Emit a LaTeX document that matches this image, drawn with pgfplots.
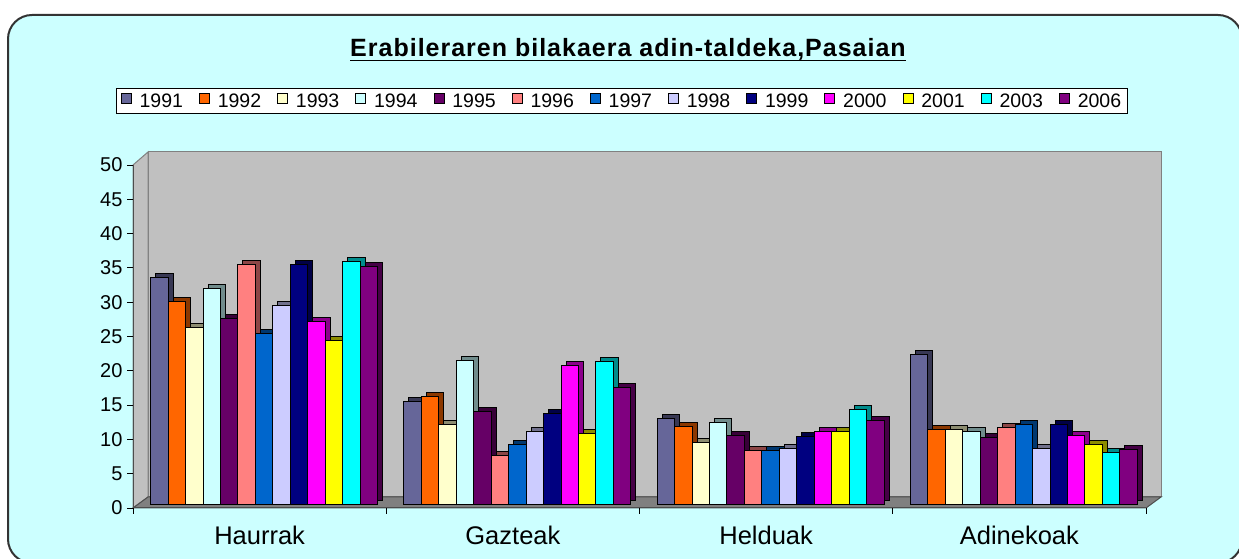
\documentclass[border=0pt]{standalone}
\usepackage{fontspec}
\setmainfont{Liberation Sans}
\newfontfamily\titlefont[LetterSpace=4]{Liberation Sans}
\usepackage{pgfplots}
\pgfplotsset{compat=1.18}
\usepackage{pgfplotstable}

\definecolor{bgcyan}{HTML}{CCFFFF}
\definecolor{framegray}{HTML}{333333}
\definecolor{wallgray}{HTML}{C0C0C0}
\definecolor{floorgray}{HTML}{808080}
\definecolor{cA}{HTML}{666699}
\definecolor{cB}{HTML}{FF6600}
\definecolor{cC}{HTML}{FFFFCC}
\definecolor{cD}{HTML}{CCFFFF}
\definecolor{cE}{HTML}{660066}
\definecolor{cF}{HTML}{FF8080}
\definecolor{cG}{HTML}{0066CC}
\definecolor{cH}{HTML}{CCCCFF}
\definecolor{cI}{HTML}{000080}
\definecolor{cJ}{HTML}{FF00FF}
\definecolor{cK}{HTML}{FFFF00}
\definecolor{cL}{HTML}{00FFFF}
\definecolor{cM}{HTML}{800080}

% columns: category index, then one column per year
\pgfplotstableread{
x  y1991 y1992 y1993 y1994 y1995 y1996 y1997 y1998 y1999 y2000 y2001 y2003 y2006
0  33.2  29.7  25.9  31.5  27.2  35.0  25.0  29.1  35.0  26.7  24.0  35.5  34.8
1  15.1  15.8  11.8  21.0  13.6   7.2   8.8  10.7  13.4  20.4  10.4  20.9  17.2
2  12.6  11.5   9.1  12.0  10.2   8.0   8.0   8.2  10.0  10.7  10.7  13.9  12.3
3  22.0  11.0  11.0  10.7   9.9  11.3  11.8   8.3  11.8  10.2   8.8   7.6   8.1
}\datatable

\newcommand{\shadebar}[3]{\addplot[shade, fill=#2!55!black, bar shift=#3pt] table[x=x,y=#1]{\datatable};}
\newcommand{\frontbar}[3]{\addplot[front, fill=#2, bar shift=#3pt] table[x=x,y=#1]{\datatable};}

\begin{document}
\begin{tikzpicture}
\clip (0,0) rectangle (1239pt,559pt);
\fill[white] (0,0) rectangle (1239pt,559pt);
\draw[fill=bgcyan, draw=framegray, line width=2pt, rounded corners=24pt] (8pt,-4pt) rectangle (1242pt,544pt);

% title
\node[inner sep=0pt, anchor=base] (T) at (628pt,502pt) {\titlefont\fontsize{25}{29}\selectfont\bfseries Erabileraren bilakaera adin-taldeka,Pasaian};
\draw[line width=1.8pt] ([yshift=-3.5pt]T.base west) -- ([yshift=-3.5pt]T.base east);

% 3D walls
\filldraw[fill=wallgray, draw=floorgray, line width=1pt] (148pt,62pt) rectangle (1161pt,407pt);
\filldraw[fill=wallgray, draw=floorgray, line width=1pt] (133pt,51pt) -- (133pt,394pt) -- (148pt,407pt) -- (148pt,62pt) -- cycle;
\filldraw[fill=floorgray, draw=floorgray!60!black, line width=1pt] (133pt,51pt) -- (148pt,62pt) -- (1161pt,62pt) -- (1146pt,51pt) -- cycle;

\begin{axis}[
  at={(133pt,51pt)}, anchor=south west,
  width=1013pt, height=343pt, scale only axis,
  xmin=-0.5, xmax=3.5, ymin=0, ymax=50,
  ybar, bar width=17.46pt,
  clip=false,
  axis x line*=bottom, axis y line*=left,
  axis line style={draw=black!70, line width=1pt},
  ytick={0,5,...,50},
  xtick={-0.5,0.5,1.5,2.5,3.5},
  xticklabels={Haurrak,Gazteak,Helduak,Adinekoak},
  x tick label as interval,
  tick align=outside,
  major tick length=6pt,
  tick style={black, line width=0.8pt},
  /pgf/number format/assume math mode=true,
  yticklabel style={font=\fontsize{20}{24}\selectfont, xshift=-1pt},
  xticklabel style={font=\fontsize{25.5}{30}\selectfont, yshift=-8pt},
  front/.style={draw=black, line width=1pt, xshift=4.5pt, yshift=3pt},
  shade/.style={draw=black, line width=1pt, xshift=9.5pt, yshift=7pt, forget plot},
  legend columns=13,
  legend style={at={(0.4827,1.2245)}, anchor=north, draw=black, line width=0.8pt, fill=white,
    font=\fontsize{19.5}{23}\selectfont, inner xsep=4pt, inner ysep=3pt,
    /tikz/every odd column/.append style={column sep=6pt},
    /tikz/every even column/.append style={column sep=14pt}},
  legend image code/.code={\draw[#1, line width=0.8pt, draw=black, xshift=0pt, yshift=0pt] (0pt,-5pt) rectangle (10pt,5pt);},
]
\shadebar{y1991}{cA}{-104.76}
\shadebar{y1992}{cB}{-87.30}
\shadebar{y1993}{cC}{-69.84}
\shadebar{y1994}{cD}{-52.38}
\shadebar{y1995}{cE}{-34.92}
\shadebar{y1996}{cF}{-17.46}
\shadebar{y1997}{cG}{0}
\shadebar{y1998}{cH}{17.46}
\shadebar{y1999}{cI}{34.92}
\shadebar{y2000}{cJ}{52.38}
\shadebar{y2001}{cK}{69.84}
\shadebar{y2003}{cL}{87.30}
\shadebar{y2006}{cM}{104.76}
\frontbar{y1991}{cA}{-104.76}
\frontbar{y1992}{cB}{-87.30}
\frontbar{y1993}{cC}{-69.84}
\frontbar{y1994}{cD}{-52.38}
\frontbar{y1995}{cE}{-34.92}
\frontbar{y1996}{cF}{-17.46}
\frontbar{y1997}{cG}{0}
\frontbar{y1998}{cH}{17.46}
\frontbar{y1999}{cI}{34.92}
\frontbar{y2000}{cJ}{52.38}
\frontbar{y2001}{cK}{69.84}
\frontbar{y2003}{cL}{87.30}
\frontbar{y2006}{cM}{104.76}
\legend{1991,1992,1993,1994,1995,1996,1997,1998,1999,2000,2001,2003,2006}
\end{axis}
\end{tikzpicture}
\end{document}
